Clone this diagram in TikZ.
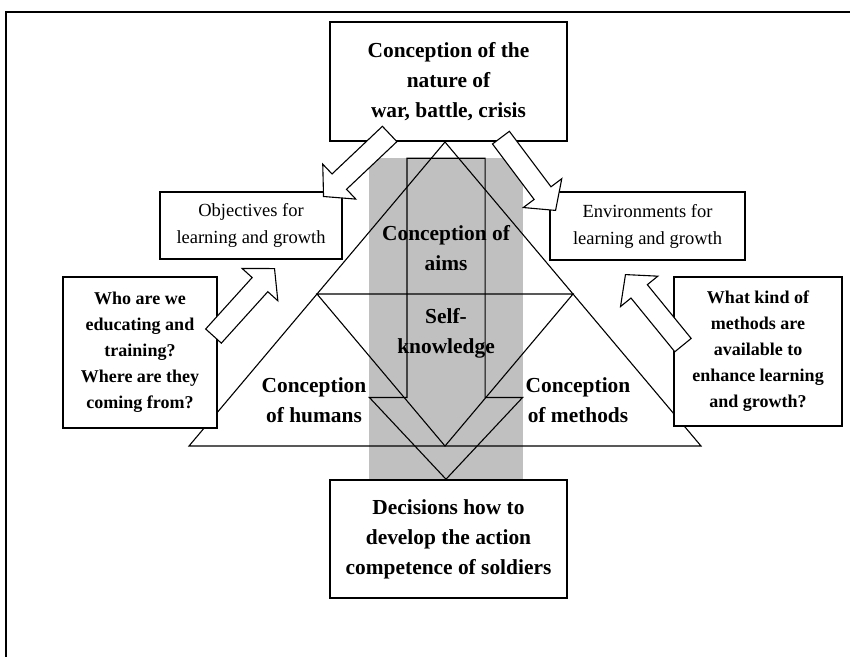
\documentclass[tikz,border=0pt]{standalone}
\usepackage{fontspec}
\setmainfont{Liberation Serif}
\usetikzlibrary{positioning, shapes.arrows}
\definecolor{aimgray}{RGB}{192,192,192}

\begin{document}
\begin{tikzpicture}[
    x=1pt, y=-1pt,
    box/.style={draw, line width=1.6pt, fill=white, align=center, inner sep=0pt},
    thinbox/.style={box, line width=1.2pt},
    big/.style={font=\fontsize{21.4}{30}\selectfont\bfseries, align=center},
    ask/.style={font=\fontsize{18}{26}\selectfont\bfseries},
    soft/.style={font=\fontsize{18.5}{27}\selectfont},
    blockarrow/.style={single arrow, draw, fill=white, line width=1.1pt, inner sep=10pt,
        minimum height=91pt, minimum width=47pt, single arrow head extend=13.5pt,
        single arrow tip angle=96, anchor=tip}
]
    \useasboundingbox (0,0) rectangle (850,657);

    % Frame
    \draw[line width=2.6pt] (850,12) -- (6,12) -- (6,657);

    % Shaded column
    \fill[aimgray] (369,158) rectangle (523,480);

    % Triangle of conceptions
    \coordinate (apex) at (445,142);
    \coordinate (bl) at (189,446);
    \coordinate (br) at (701,446);
    \coordinate (ml) at (317,294);
    \coordinate (mr) at (573,294);
    \coordinate (mb) at (445,446);
    \draw[line width=1.1pt] (apex) -- (bl) -- (br) -- cycle;
    \draw[line width=1.1pt] (ml) -- (mr) -- (mb) -- cycle;

    % Down arrow through the middle
    \node[single arrow, draw, line width=1.1pt, rotate=-90, anchor=tip, inner sep=38.5pt,
        minimum height=321pt, minimum width=152pt, single arrow head extend=37.5pt,
        single arrow tip angle=86.3]
        (down) at (446,480) {};

    % Inner labels
    \node[big] (aims) at (446,248) {Conception of\\aims};
    \node[big] (self) at (446,333) {Self-\\knowledge};
    \node[big] (humans) at (314,400) {Conception\\of humans};
    \node[big] (methods) at (578,400) {Conception\\of methods};

    % Top and bottom boxes
    \node[box, big, minimum width=237pt, minimum height=119pt] (nature) at (448.5,81.5)
        {Conception of the\\nature of\\war, battle, crisis};
    \node[box, big, minimum width=237pt, minimum height=118pt] (decide) at (448.5,539)
        {Decisions how to\\develop the action\\competence of soldiers};

    % Side boxes
    \node[thinbox, soft, minimum width=182pt, minimum height=67pt] (goals) at (251,225.5)
        {Objectives for\\learning and growth};
    \node[thinbox, soft, minimum width=195pt, minimum height=68pt] (envs) at (647.5,226)
        {Environments for\\learning and growth};
    \node[box, ask, minimum width=154pt, minimum height=151pt] (who) at (140,352.5)
        {Who are we\\educating and\\training?\\Where are they\\coming from?};
    \node[box, ask, minimum width=168pt, minimum height=149pt] (how) at (758,351.5)
        {What kind of\\methods are\\available to\\enhance learning\\and growth?};

    % Block arrows
    \node[blockarrow, rotate=223.4] (a1) at (323,197) {};
    \node[blockarrow, rotate=-53.1] (a2) at (556,211) {};
    \node[blockarrow, rotate=47.9] (a3) at (275,268) {};
    \node[blockarrow, rotate=129.2] (a4) at (625,274) {};

\end{tikzpicture}
\end{document}
